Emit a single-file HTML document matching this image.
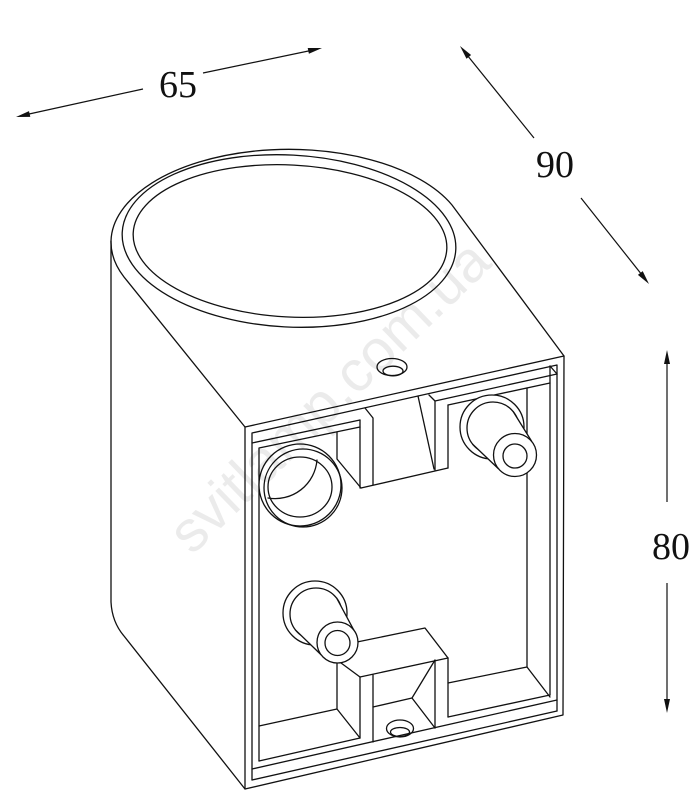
<!DOCTYPE html>
<html><head><meta charset="utf-8">
<style>html,body{margin:0;padding:0;background:#fff;}svg{display:block}</style>
</head>
<body>
<svg xmlns="http://www.w3.org/2000/svg" width="690" height="804" viewBox="0 0 690 804">
<rect width="690" height="804" fill="#fff"/>

<!-- dimension lines -->
<g stroke="#111" stroke-width="1.2" fill="none">
  <line x1="143" y1="89" x2="20" y2="116"/>
  <line x1="203" y1="73" x2="318" y2="49"/>
  <line x1="534" y1="138" x2="463" y2="50"/>
  <line x1="581" y1="198" x2="646" y2="280"/>
  <line x1="667" y1="502" x2="667" y2="355"/>
  <line x1="667" y1="583" x2="667" y2="708"/>
</g>
<g fill="#111">
  <polygon points="16,117 30.3,116.9 29.0,111.1"/>
  <polygon points="322,48 308.9,53.8 307.7,48.0"/>
  <polygon points="460,46 471.1,55.0 466.5,58.8"/>
  <polygon points="649,284 642.7,271.1 637.9,274.9"/>
  <polygon points="667,350 664,364 670,364"/>
  <polygon points="667,713 664,699 670,699"/>
</g>
<g font-family="'Liberation Serif', serif" font-size="38" fill="#111" text-anchor="middle">
  <text x="178" y="97">65</text>
  <text x="555" y="177">90</text>
  <text x="671" y="559">80</text>
</g>

<g fill="none" stroke="#111" stroke-width="1.3" stroke-linejoin="round" stroke-linecap="round">
  <!-- body outline -->
  <path d="M245,789 L124,636 Q112,622 111,602 L111,241 A178,93 0 0 1 452,205 L564,356 L563,715 Z"/>
  <path d="M111,241 A178,93 0 0 0 124,277 L245,427 L564,356"/>
  <path d="M245,427 L245,789"/>
  <ellipse cx="289" cy="241" rx="167" ry="86" transform="rotate(3 289 241)"/>
  <ellipse cx="290" cy="241" rx="157" ry="76" transform="rotate(3 290 241)"/>
  <!-- top screw hole -->
  <ellipse cx="392" cy="367" rx="15" ry="8.5"/>
  <ellipse cx="393" cy="371" rx="10" ry="4.8"/>

  <!-- front face frame -->
  <path d="M252,780 L252,433 L557,365 L557,711"/>
  <path d="M252,780 L557,711"/>
  <path d="M252,769 L557,700"/>
  <path d="M252,443 L360,420"/>
  <path d="M435,401 L557,374"/>
  <path d="M550,366 L557,374"/>

  <!-- opening -->
  <path d="M259,761 L259,448 L360,427"/>
  <path d="M360,420 L360,488"/>
  <path d="M337,432 L337,459 L361,488"/>
  <path d="M365,408 L373,418 L373,485"/>
  <path d="M361,488 L448,468"/>
  <path d="M429,395 L435,401 L435,470"/>
  <path d="M418,396 L434,469"/>
  <path d="M448,405 L448,468"/>
  <path d="M448,405 L550,383"/>
  <path d="M550,366 L550,695"/>
  <path d="M527,388 L527,667"/>
  <path d="M448,683 L527,667 L550,697"/>
  <path d="M448,717 L550,695"/>
  <path d="M259,761 L360,738"/>
  <path d="M259,726 L337,709 L360,738"/>

  <!-- bottom tab -->
  <path d="M337,660 L360,677"/>
  <path d="M360,677 L360,738"/>
  <path d="M337,660 L337,709"/>
  <path d="M373,675 L373,742"/>
  <path d="M360,677 L448,658"/>
  <path d="M357,642 L425,628 L448,658"/>
  <path d="M448,658 L448,717"/>
  <path d="M435,660 L435,728"/>
  <path d="M373,707 L412,698 L435,660"/>
  <path d="M412,698 L435,728"/>
  <ellipse cx="400" cy="728.5" rx="13.5" ry="8.5"/>
  <ellipse cx="400" cy="732" rx="9.5" ry="4.5"/>

  <!-- top-left hole -->
  <circle cx="300" cy="485" r="41" fill="#fff"/>
  <circle cx="303" cy="488" r="39"/>
  <ellipse cx="300" cy="487" rx="32" ry="30"/>
  <path d="M268,498 A42,42 0 0 0 317,460"/>

  <!-- top-right boss -->
  <circle cx="492" cy="427" r="32" fill="#fff"/>
  <circle cx="493" cy="428" r="26"/>
  <path d="M513.2,411.6 L531.7,441.4 A21.5,21.5 0 0 1 498.3,468.6 L472.8,444.4 Z" fill="#fff" stroke="none"/>
  <path d="M513.2,411.6 L531.7,441.4 M472.8,444.4 L498.3,468.6"/>
  <circle cx="515" cy="455" r="21.5" fill="#fff"/>
  <circle cx="515" cy="456" r="12"/>

  <!-- bottom-left boss -->
  <circle cx="315" cy="613" r="32" fill="#fff"/>
  <circle cx="316" cy="614" r="26"/>
  <path d="M336.7,598.2 L353.8,630.1 A20.5,20.5 0 0 1 321.2,654.9 L295.3,629.8 Z" fill="#fff" stroke="none"/>
  <path d="M336.7,598.2 L353.8,630.1 M295.3,629.8 L321.2,654.9"/>
  <circle cx="337.5" cy="642.5" r="20.5" fill="#fff"/>
  <circle cx="337.5" cy="643" r="12.5"/>
</g>

<!-- watermark -->
<text x="192" y="556" transform="rotate(-44 192 556)" font-family="'Liberation Sans', sans-serif" font-size="58" fill="#000" fill-opacity="0.08">svitlamp.com.ua</text>
</svg>
</body></html>
